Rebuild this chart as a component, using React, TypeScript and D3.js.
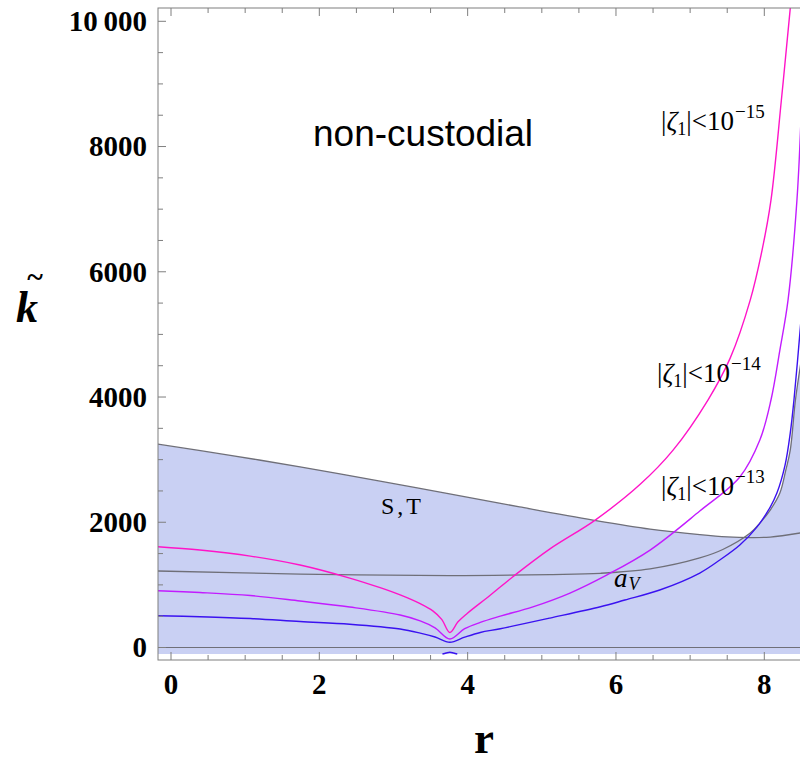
import React from 'react';
import * as d3 from 'd3';

// S,T boundary (upper edge of the shaded region)
const stR = [-0.18, 0.8, 1.74, 2.8, 3.72, 4.7, 5.69, 6.46, 7.13, 7.5, 7.81, 8.08, 8.5];
const stK = [3248, 3068, 2886, 2660, 2461, 2245, 2035, 1891, 1804, 1768, 1756, 1764, 1832];

// a_V boundary
const avR = [-0.18, 1.74, 3.76, 5.11, 5.79, 6.46, 7.13, 7.44, 7.81, 7.94, 8.08, 8.21, 8.29, 8.35, 8.42, 8.5];
const avK = [1222, 1173, 1149, 1165, 1185, 1255, 1430, 1565, 1828, 1987, 2195, 2466, 2833, 3152, 3952, 4600];

// |zeta1| < 1e-15 (pink)
const z15R = [-0.18, 0.39, 1.07, 1.74, 2.41, 2.82, 3.09, 3.36, 3.53, 3.65, 3.76, 3.87, 3.99, 4.3, 4.61, 5.11, 5.72, 6.33, 6.77, 7.24, 7.54, 7.81, 7.97, 8.09, 8.23, 8.35, 8.43];
const z15K = [1609, 1556, 1460, 1317, 1109, 955, 840, 700, 585, 450, 240, 410, 540, 830, 1130, 1575, 2035, 2610, 3152, 3952, 4621, 5547, 6345, 7143, 8739, 10207, 11300];

// |zeta1| < 1e-14 (purple)
const z14R = [-0.18, 0.39, 1.07, 1.74, 2.41, 3.09, 3.36, 3.56, 3.76, 3.96, 4.17, 4.44, 4.88, 5.38, 5.88, 6.46, 7.13, 7.67, 7.94, 8.09, 8.21, 8.32, 8.44, 8.5];
const z14K = [906, 878, 830, 742, 646, 519, 425, 315, 136, 300, 400, 500, 650, 870, 1160, 1556, 2179, 2722, 3312, 3952, 4749, 5547, 7143, 8600];

// |zeta1| < 1e-13 (blue)
const z13R = [-0.18, 0.39, 1.07, 1.74, 2.41, 3.09, 3.36, 3.56, 3.76, 3.96, 4.17, 4.44, 5.11, 5.79, 6.12, 6.59, 7.13, 7.4, 7.67, 7.9, 8.08, 8.17, 8.28, 8.35, 8.4, 8.5];
const z13K = [508, 492, 463, 415, 372, 295, 230, 168, 83, 165, 240, 300, 470, 650, 758, 918, 1189, 1397, 1636, 1923, 2243, 2466, 2913, 3424, 3952, 5300];

// small blue piece below the axis
const bumpR = [3.66, 3.71, 3.76, 3.81, 3.86];
const bumpK = [-104, -88, -76, -88, -104];

const yMajor = [0, 2000, 4000, 6000, 8000, 10000];
const yMajorLabels = ['0', '2000', '4000', '6000', '8000', '10\u2009000'];
const xMajor = [0, 2, 4, 6, 8];
const xMajorLabels = ['0', '2', '4', '6', '8'];

const zip = (a: number[], b: number[]) => a.map((v, i) => [v, b[i]] as [number, number]);

export default function App() {
  const W = 800, H = 759;
  const left = 158, top = 8, right = 801, bottom = 660;
  const x = d3.scaleLinear().domain([0, 8]).range([171, 764.3]);
  const y = d3.scaleLinear().domain([0, 10000]).range([647.5, 21.3]);
  const fillBase = -102;

  const curve = d3.curveCatmullRom.alpha(0.5);
  const line = d3.line<[number, number]>().x(d => x(d[0])).y(d => y(d[1])).curve(curve);
  const area = d3.area<[number, number]>().x(d => x(d[0])).y0(y(fillBase)).y1(d => y(d[1])).curve(curve);

  const st = zip(stR, stK);
  const av = zip(avR, avK);

  const yMinor = d3.range(500, 10001, 500).filter(v => v % 2000 !== 0);
  const xMinor = d3.range(0.5, 8.5, 0.5).filter(v => v % 2 !== 0);

  const frame = '#7f7f7f';
  const fill = '#c9d0f3';
  const gray = '#6f6f78';

  return (
    <svg width={W} height={H} style={{ position: 'absolute', left: 0, top: 0, background: '#fff' }}>
      <defs>
        <clipPath id="plot">
          <rect x={left} y={top} width={right - left} height={bottom - top} />
        </clipPath>
      </defs>
      <g clipPath="url(#plot)">
        <path d={area(st) || ''} fill={fill} />
        <path d={area(av) || ''} fill={fill} />
        <line x1={left} x2={right} y1={y(0)} y2={y(0)} stroke={gray} strokeWidth={1.2} />
        <path d={line(st) || ''} fill="none" stroke={gray} strokeWidth={1.3} />
        <path d={line(av) || ''} fill="none" stroke={gray} strokeWidth={1.3} />
        <path d={line(zip(z13R, z13K)) || ''} fill="none" stroke="#3a12f0" strokeWidth={1.4} />
        <path d={line(zip(z14R, z14K)) || ''} fill="none" stroke="#c21cff" strokeWidth={1.4} />
        <path d={line(zip(z15R, z15K)) || ''} fill="none" stroke="#ff14c8" strokeWidth={1.4} />
        <path d={line(zip(bumpR, bumpK)) || ''} fill="none" stroke="#3a12f0" strokeWidth={1.4} />
      </g>

      {/* frame */}
      <rect x={left} y={top} width={right - left} height={bottom - top} fill="none" stroke={frame} strokeWidth={1} />

      {/* y ticks */}
      {yMajor.map(v => (
        <line key={'ym' + v} x1={left} x2={left + 8} y1={y(v)} y2={y(v)} stroke={frame} />
      ))}
      {yMinor.map(v => (
        <line key={'yn' + v} x1={left} x2={left + 5} y1={y(v)} y2={y(v)} stroke={frame} />
      ))}
      {/* x ticks bottom and top */}
      {xMajor.map(v => (
        <g key={'xm' + v}>
          <line x1={x(v)} x2={x(v)} y1={bottom} y2={bottom - 8} stroke={frame} />
          <line x1={x(v)} x2={x(v)} y1={top} y2={top + 8} stroke={frame} />
        </g>
      ))}
      {xMinor.map(v => (
        <g key={'xn' + v}>
          <line x1={x(v)} x2={x(v)} y1={bottom} y2={bottom - 5} stroke={frame} />
          <line x1={x(v)} x2={x(v)} y1={top} y2={top + 5} stroke={frame} />
        </g>
      ))}

      {/* tick labels */}
      <g fontFamily="'Liberation Serif', 'Times New Roman', serif" fontWeight="bold" fontSize={29} fill="#000">
        {yMajor.map((v, i) => (
          <text key={'yl' + v} x={147} y={y(v)} dy="0.34em" textAnchor="end">{yMajorLabels[i]}</text>
        ))}
        {xMajor.map((v, i) => (
          <text key={'xl' + v} x={x(v)} y={694} textAnchor="middle">{xMajorLabels[i]}</text>
        ))}
      </g>

      {/* axis titles */}
      <text x={484} y={753} textAnchor="middle" fontFamily="'Liberation Serif', serif" fontWeight="bold" fontSize={45}>r</text>
      <text x={27} y={322} textAnchor="middle" fontFamily="'Liberation Serif', serif" fontWeight="bold" fontStyle="italic" fontSize={44}>k</text>
      <text x={35} y={287} textAnchor="middle" fontFamily="'Liberation Serif', serif" fontWeight="bold" fontSize={30}>~</text>

      {/* annotations */}
      <text x={313} y={146} fontFamily="'Liberation Sans', Arial, sans-serif" fontSize={37}>non-custodial</text>

      <g fontFamily="'Liberation Serif', 'Times New Roman', serif" fontSize={27} fill="#000">
        <text x={661} y={130}>|<tspan fontStyle="italic">ζ</tspan><tspan fontSize={18} dy={5}>1</tspan><tspan dy={-5}>|&lt;10</tspan><tspan fontSize={19} dy={-12} dx={1}>−15</tspan></text>
        <text x={657} y={382}>|<tspan fontStyle="italic">ζ</tspan><tspan fontSize={18} dy={5}>1</tspan><tspan dy={-5}>|&lt;10</tspan><tspan fontSize={19} dy={-12} dx={1}>−14</tspan></text>
        <text x={661} y={495}>|<tspan fontStyle="italic">ζ</tspan><tspan fontSize={18} dy={5}>1</tspan><tspan dy={-5}>|&lt;10</tspan><tspan fontSize={19} dy={-12} dx={1}>−13</tspan></text>
        <text x={381} y={514} fontSize={24}>S<tspan dx={3}>,</tspan><tspan dx={3}>T</tspan></text>
        <text x={614} y={587} fontStyle="italic">a<tspan fontSize={18} dy={3} dx={1}>V</tspan></text>
      </g>
    </svg>
  );
}
